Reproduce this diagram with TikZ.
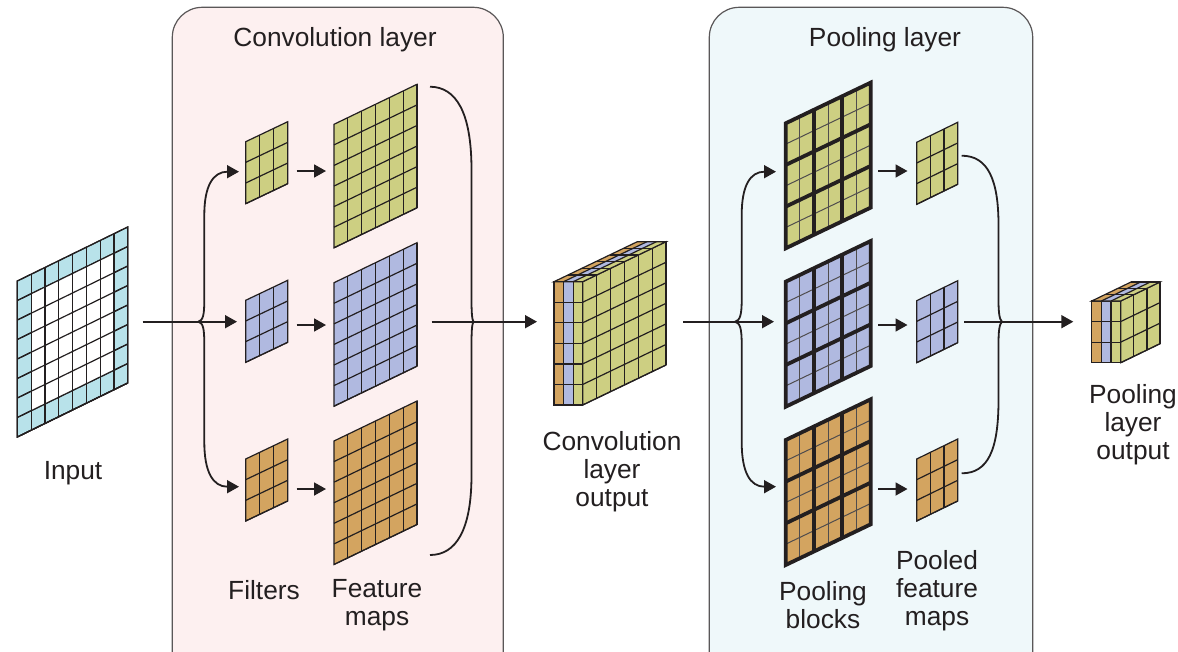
\documentclass[tikz,border=0pt]{standalone}
\usepackage{fontspec}
\setmainfont{Liberation Sans}
\usetikzlibrary{arrows.meta}
\definecolor{cgreen}{RGB}{205,207,130}
\definecolor{cblue}{RGB}{176,185,224}
\definecolor{corange}{RGB}{211,164,96}
\definecolor{ccyan}{RGB}{184,226,234}
\definecolor{convbg}{RGB}{253,240,240}
\definecolor{poolbg}{RGB}{239,248,250}
\definecolor{ink}{RGB}{35,31,32}
\tikzset{
 gridline/.style={draw=ink, line width=1.2pt, line join=miter},
 thinline/.style={draw=ink!80, line width=1.0pt},
 thickline/.style={draw=ink, line width=3.8pt, line join=miter},
 conn/.style={draw=ink, line width=1.8pt},
 arr/.style={conn, -{Triangle[length=12pt,width=13pt]}},
 lbl/.style={font=\fontsize{26.3}{28}\selectfont, text=ink, align=center, inner sep=0pt},
 layerbox/.style={draw=ink!75, line width=1.2pt, rounded corners=30pt},
}
% #1 x, #2 y (top-left), #3 width, #4 height, #5 shear, #6 nx, #7 ny, #8 fill
\newcommand{\pgrid}[8]{%
 \fill[#8] (#1,#2) -- ++(#3,#5) -- ++(0,#4) -- ++({-(#3)},{-(#5)}) -- cycle;
 \foreach \i in {1,...,#6} {\draw[gridline] ({#1+\i*(#3)/#6},{#2+\i*(#5)/#6}) -- ++(0,#4);}
 \foreach \j in {1,...,#7} {\draw[gridline] ({#1},{#2+\j*(#4)/#7}) -- ++(#3,#5);}
 \draw[gridline] (#1,#2) -- ++(#3,#5) -- ++(0,#4) -- ++({-(#3)},{-(#5)}) -- cycle;
}
% pooling block: #1 x, #2 y, #3 fill
\newcommand{\pblock}[3]{%
 \fill[#3] (#1,#2) -- ++(85,-40.7) -- ++(0,125) -- ++(-85,40.7) -- cycle;
 \foreach \i in {1,3,5} {\draw[thinline] ({#1+\i*85/6},{#2-\i*40.7/6}) -- ++(0,125);
   \draw[thinline] ({#1},{#2+\i*125/6}) -- ++(85,-40.7);}
 \foreach \i in {2,4} {\draw[thickline] ({#1+\i*85/6},{#2-\i*40.7/6}) -- ++(0,125);
   \draw[thickline] ({#1},{#2+\i*125/6}) -- ++(85,-40.7);}
 \draw[thickline] (#1,#2) -- ++(85,-40.7) -- ++(0,125) -- ++(-85,40.7) -- cycle;
}
% cube: #1 x0, #2 y0, #3 depth, #4 height, #5 rows, #6 W, #7 S, #8 cols
\newcommand{\cube}[8]{%
 \fill[corange] (#1,#2) rectangle ++({(#3)/3},#4);
 \fill[cblue] ({#1+(#3)/3},#2) rectangle ++({(#3)/3},#4);
 \fill[cgreen] ({#1+2*(#3)/3},#2) rectangle ++({(#3)/3},#4);
 \foreach \j in {1,...,#5} {\draw[gridline] (#1,{#2+\j*(#4)/#5}) -- ++(#3,0);}
 \foreach \k in {1,2} {\draw[gridline] ({#1+\k*(#3)/3},#2) -- ++(0,#4);}
 \draw[gridline] (#1,#2) rectangle ++(#3,#4);
 \pgrid{#1+#3}{#2}{#6}{#4}{#7}{#8}{#5}{cgreen}
 \fill[corange] (#1,#2) -- ++({(#3)/3},0) -- ++(#6,#7) -- ++({-(#3)/3},0) -- cycle;
 \fill[cblue] ({#1+(#3)/3},#2) -- ++({(#3)/3},0) -- ++(#6,#7) -- ++({-(#3)/3},0) -- cycle;
 \fill[cgreen] ({#1+2*(#3)/3},#2) -- ++({(#3)/3},0) -- ++(#6,#7) -- ++({-(#3)/3},0) -- cycle;
 \foreach \k in {1,2} {\draw[gridline] ({#1+\k*(#3)/3},#2) -- ++(#6,#7);}
 \foreach \i in {1,...,#8} {\draw[gridline] ({#1+\i*(#6)/#8},{#2+\i*(#7)/#8}) -- ++(#3,0);}
 \draw[gridline] (#1,#2) -- ++(#3,0) -- ++(#6,#7) -- ++({-(#3)},0) -- cycle;
}
\begin{document}
\begin{tikzpicture}[x=1pt,y=-1pt]
\clip (0,0) rectangle (1178,651);
\fill[white] (0,0) rectangle (1178,651);

% layer boxes
\draw[layerbox, fill=convbg] (172.3,7.3) rectangle (503.3,720);
\draw[layerbox, fill=poolbg] (709.3,7.3) rectangle (1032.7,720);

% input
\pgrid{17.3}{281}{110.4}{156}{-54}{8}{8}{ccyan}
\fill[white] (31.1,293.75) -- ++(82.8,-40.5) -- ++(0,117) -- ++(-82.8,40.5) -- cycle;
\pgrid{17.3}{281}{110.4}{156}{-54}{8}{8}{ccyan,opacity=0}

% filters
\pgrid{245.7}{141.7}{42}{62}{-20}{3}{3}{cgreen}
\pgrid{245.7}{300.3}{42}{62}{-20}{3}{3}{cblue}
\pgrid{245.7}{459}{42}{62}{-20}{3}{3}{corange}

% feature maps
\pgrid{334}{124.3}{83}{123.5}{-40}{6}{6}{cgreen}
\pgrid{334}{282.7}{83}{123.5}{-40}{6}{6}{cblue}
\pgrid{334}{441}{83}{123.5}{-40}{6}{6}{corange}

% conv output cube
\cube{554}{281.7}{28.7}{123.3}{6}{83.3}{-40}{6}

% pooling blocks
\pblock{785.7}{123.3}{cgreen}
\pblock{785.7}{281.7}{cblue}
\pblock{785.7}{440}{corange}

% pooled feature maps
\pgrid{916.7}{142.3}{41}{62}{-20}{3}{3}{cgreen}
\pgrid{916.7}{300.7}{41}{62}{-20}{3}{3}{cblue}
\pgrid{916.7}{459}{41}{62}{-20}{3}{3}{corange}

% pooling output cube
\cube{1091.7}{301}{29}{61.7}{3}{39.3}{-19}{3}

% ---------- coordinates for connectors ----------
\coordinate (inR) at (142.7,321.7);
\coordinate (cj) at (198.3,321.7);
\coordinate (f1) at (239,171.7);
\coordinate (f2) at (237,321.7);
\coordinate (f3) at (239,486.7);
\coordinate (f1R) at (296.7,171);
\coordinate (m1L) at (326,171);
\coordinate (f2R) at (296.7,325);
\coordinate (m2L) at (326,325);
\coordinate (f3R) at (296.7,489);
\coordinate (m3L) at (326,489);
\coordinate (b1t) at (430,86.7);
\coordinate (b1b) at (430,555);
\coordinate (b1c) at (473.5,321.7);
\coordinate (fmR) at (431.7,321.7);
\coordinate (coL) at (537,321.7);
\coordinate (coR) at (683.3,321.7);
\coordinate (pj) at (735,321.7);
\coordinate (p1) at (776,171.7);
\coordinate (p2) at (774,321.7);
\coordinate (p3) at (776,486.7);
\coordinate (p1R) at (878,171);
\coordinate (q1L) at (907.5,171);
\coordinate (p2R) at (878,325);
\coordinate (q2L) at (907.5,325);
\coordinate (p3R) at (878,489);
\coordinate (q3L) at (907.5,489);
\coordinate (b2t) at (961.7,155.7);
\coordinate (b2b) at (961.7,473.3);
\coordinate (b2c) at (1002,321.7);
\coordinate (qR) at (964,321.7);
\coordinate (poL) at (1073.3,321.7);

% connectors: convolution layer
\draw[arr] (inR) -- (f2);
\draw[arr] (cj) .. controls (203,320.5) and (204.3,315) .. (204.3,300) -- (204.3,215) .. controls (204.3,186) and (213,171.7) .. (f1);
\draw[arr] (cj) .. controls (203,323) and (204.3,328) .. (204.3,344) -- (204.3,442) .. controls (204.3,472) and (213,486.7) .. (f3);
\draw[arr] (f1R) -- (m1L);
\draw[arr] (f2R) -- (m2L);
\draw[arr] (f3R) -- (m3L);
\draw[conn] (b1t) .. controls (456,87) and (471.5,112) .. (471.5,170) -- (471.5,298) .. controls (471.5,313) and (472,319.5) .. (b1c) .. controls (472,324) and (471.5,330) .. (471.5,346) -- (471.5,475) .. controls (471.5,530) and (456,555) .. (b1b);
\draw[arr] (fmR) -- (coL);

% connectors: pooling layer
\draw[arr] (coR) -- (p2);
\draw[arr] (pj) .. controls (740,320.5) and (741.7,315) .. (741.7,300) -- (741.7,215) .. controls (741.7,186) and (750,171.7) .. (p1);
\draw[arr] (pj) .. controls (740,323) and (741.7,328) .. (741.7,344) -- (741.7,442) .. controls (741.7,472) and (750,486.7) .. (p3);
\draw[arr] (p1R) -- (q1L);
\draw[arr] (p2R) -- (q2L);
\draw[arr] (p3R) -- (q3L);
\draw[conn] (b2t) .. controls (988,155.7) and (998.5,180) .. (998.5,225) -- (998.5,300) .. controls (998.5,313) and (999.5,319.5) .. (b2c) .. controls (999.5,324) and (998.5,330) .. (998.5,344) -- (998.5,400) .. controls (998.5,450) and (988,473.3) .. (b2b);
\draw[arr] (qR) -- (poL);

% labels
\node[lbl] (tconv) at (335,39.5) {Convolution layer};
\node[lbl] (tpool) at (885,39.5) {Pooling layer};
\node[lbl] (tin) at (73,473) {Input};
\node[lbl] (tfil) at (264,590) {Filters};
\node[lbl] (tfm) at (377,605) {Feature\\maps};
\node[lbl] (tco) at (612,472) {Convolution\\layer\\output};
\node[lbl] (tpb) at (823,605) {Pooling\\blocks};
\node[lbl] (tpf) at (937,591) {Pooled\\feature\\maps};
\node[lbl] (tpo) at (1133,425) {Pooling\\layer\\output};
\end{tikzpicture}
\end{document}
